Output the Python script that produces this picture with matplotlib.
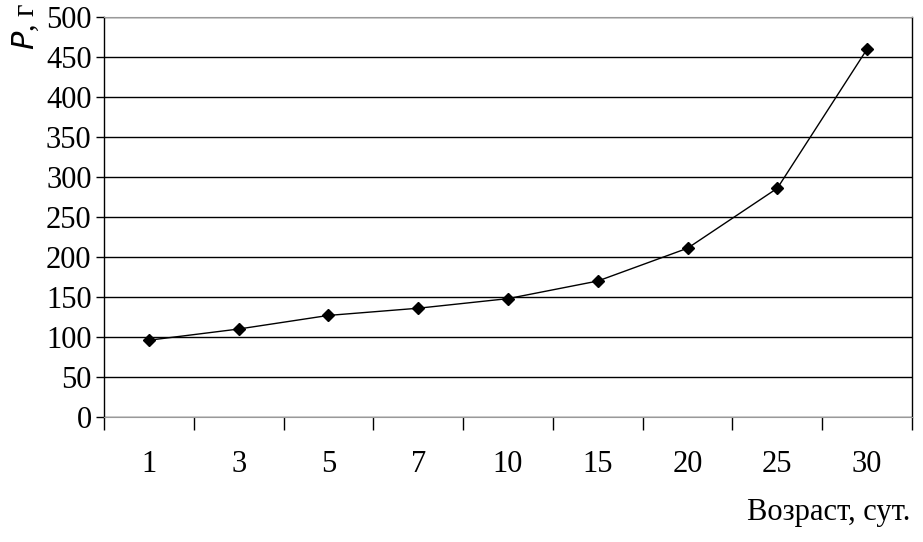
import numpy as np
import matplotlib.pyplot as plt
from matplotlib.ticker import FixedLocator

# данные
vozrast = ["1", "3", "5", "7", "10", "15", "20", "25", "30"]
massa = [96, 110, 127, 136, 148, 170, 211, 286, 460]

plt.rcParams['font.family'] = ['Liberation Serif', 'DejaVu Serif']

fig = plt.figure(figsize=(9.23, 5.42), dpi=100)
ax = fig.add_axes([0.1127, 0.2306, 0.8754, 0.738])

x = np.arange(len(vozrast))
ax.plot(x, massa, color='black', lw=1, marker='D', markersize=6, zorder=3)

ax.set_xlim(-0.5, len(vozrast) - 0.5)
ax.set_ylim(0, 500)
ax.set_yticks(np.arange(0, 501, 50))
ax.yaxis.grid(True, color='black', lw=1)
ax.set_axisbelow(True)

ax.set_xticks(x)
ax.set_xticklabels(vozrast)
ax.xaxis.set_minor_locator(FixedLocator(np.arange(-0.5, len(vozrast), 1)))
ax.tick_params(axis='x', which='major', length=0, pad=24, labelsize=22)
ax.tick_params(axis='x', which='minor', length=9, width=1, direction='out')
ax.tick_params(axis='y', length=6, width=1, labelsize=22, pad=3)

for s in ['left', 'right']:
    ax.spines[s].set_color('black')
    ax.spines[s].set_linewidth(1)
ax.spines['top'].set_color('#999999')
ax.spines['bottom'].set_color('#999999')

fig.text(0.028, 0.995, r'$\mathit{P}$, г', rotation=90, fontsize=22, ha='center', va='top')
fig.text(0.986, 0.028, 'Возраст, сут.', fontsize=22, ha='right', va='bottom')

fig.savefig('out.png', dpi=100)
